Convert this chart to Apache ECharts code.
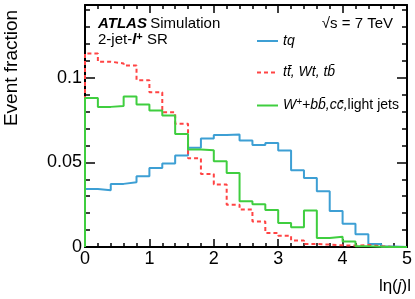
<!DOCTYPE html>
<html>
<head>
<meta charset="utf-8">
<script src="https://cdn.jsdelivr.net/npm/echarts@6/dist/echarts.min.js"></script>
<style>html,body{margin:0;padding:0;background:#fff}#c{width:415px;height:299px}</style>
</head>
<body>
<div id="c"></div>
<script>
// bin low edges of |eta(j)| (bin width 0.2)
const binLow = [0,0.2,0.4,0.6,0.8,1.0,1.2,1.4,1.6,1.8,2.0,2.2,2.4,2.6,2.8,3.0,3.2,3.4,3.6,3.8,4.0,4.2,4.4,4.6,4.8];
const binHigh = 5;
const tq    = [0.0343,0.0335,0.0373,0.0382,0.0418,0.0467,0.0493,0.0540,0.0586,0.0641,0.0662,0.0665,0.0630,0.0602,0.0615,0.0570,0.0453,0.0408,0.0329,0.0213,0.0137,0.0076,0.0017,0.0003,0];
const ttbar = [0.1144,0.1095,0.1085,0.1073,0.0986,0.0915,0.0796,0.0728,0.0524,0.0432,0.0369,0.0250,0.0221,0.0151,0.0083,0.0067,0.0039,0.0018,0.0014,0.0010,0.0008,0.0012,0.0005,0,0];
const wjets = [0.0880,0.0828,0.0833,0.0890,0.0842,0.0807,0.0777,0.0668,0.0576,0.0572,0.0507,0.0438,0.0270,0.0252,0.0218,0.0142,0.0116,0.0215,0.0053,0.0061,0.0032,0.0004,0.0002,0,0];
const xTicks = [0,1,2,3,4,5];
const yTicks = [0,0.05,0.1];
const yTickLabels = ['0','0.05','0.1'];
const names = ['tq', 'tt\u0304, Wt, tb\u0304', 'W+bb\u0304,cc\u0304,light jets'];

function histData(vals){
  const d = [[binLow[0], 0]];
  vals.forEach((v,i)=>d.push([binLow[i], v]));
  d.push([binHigh, vals[vals.length-1]]);
  return d;
}

const FONT = '"Liberation Sans", Arial, Helvetica, sans-serif';
const chart = echarts.init(document.getElementById('c'), null, {renderer:'canvas'});
const axisLine = {show:true, onZero:false, lineStyle:{color:'#000', width:2}};

const xCommon = {
  type:'value', min:0, max:5, interval:1,
  axisLine: axisLine,
  splitLine:{show:false},
  axisTick:{show:true, inside:true, length:8, lineStyle:{color:'#000', width:1.5}},
  minorTick:{show:true, splitNumber:5, length:4, lineStyle:{color:'#000', width:1.5}}
};
const yMajor = {
  type:'value', min:0, max:0.143, interval:0.05,
  axisLine: axisLine, splitLine:{show:false},
  axisTick:{show:true, inside:true, length:10, lineStyle:{color:'#000', width:1.5}}
};
const yMinor = {
  type:'value', min:0, max:0.143, interval:0.01,
  axisLine:{show:false, onZero:false}, splitLine:{show:false}, axisLabel:{show:false},
  axisTick:{show:true, inside:true, length:5, lineStyle:{color:'#000', width:1.5}}
};

const legendRich = {
  it:{fontFamily:FONT, fontSize:14, fontStyle:'italic', color:'#000'},
  n:{fontFamily:FONT, fontSize:14, color:'#000'},
  sup:{fontFamily:FONT, fontSize:10, fontStyle:'italic', color:'#000', verticalAlign:'top', padding:[0,0,7,0]}
};
function legendFmt(name){
  if (name === names[0]) return '{it|tq}';
  if (name === names[1]) return '{it|tt\u0304, Wt, tb\u0304}';
  return '{it|W}{sup|+}{it|+bb\u0304,cc\u0304,}{n|light jets}';
}

chart.setOption({
  animation:false,
  backgroundColor:'#fff',
  grid:{left:85, right:5, top:5, bottom:52, containLabel:false},
  xAxis:[
    Object.assign({}, xCommon, {position:'bottom',
      axisLabel:{show:true, margin:3, fontSize:18, fontFamily:FONT, color:'#000',
        formatter:v=> xTicks.indexOf(v)>=0 ? String(v) : ''}}),
    Object.assign({}, xCommon, {position:'top', axisLabel:{show:false}})
  ],
  yAxis:[
    Object.assign({}, yMajor, {position:'left',
      axisLabel:{show:true, margin:3, fontSize:18, fontFamily:FONT, color:'#000',
        formatter:v=>{ for(let i=0;i<yTicks.length;i++){ if(Math.abs(v-yTicks[i])<1e-6) return yTickLabels[i]; } return ''; }}}),
    Object.assign({}, yMajor, {position:'right', axisLabel:{show:false}}),
    Object.assign({}, yMinor, {position:'left'}),
    Object.assign({}, yMinor, {position:'right'})
  ],
  legend:{
    show:true, orient:'vertical', left:256, top:34, padding:0,
    itemWidth:21, itemHeight:14, itemGap:17.5,
    itemStyle:{opacity:0},
    data:names,
    formatter:legendFmt,
    textStyle:{rich:legendRich},
    selectedMode:false
  },
  series:[
    {name:names[0], type:'line', step:'end', symbol:'none', data:histData(tq),
     lineStyle:{color:'#3d9fd4', width:2}, itemStyle:{color:'#3d9fd4'}, z:3},
    {name:names[1], type:'line', step:'end', symbol:'none', data:histData(ttbar),
     lineStyle:{color:'#ff4444', width:2, type:[4,3]}, itemStyle:{color:'#ff4444'}, z:4},
    {name:names[2], type:'line', step:'end', symbol:'none', data:histData(wjets),
     lineStyle:{color:'#3fce3f', width:2}, itemStyle:{color:'#3fce3f'}, z:5}
  ],
  graphic:[
    {type:'text', x:12, y:68, rotation:Math.PI/2,
     style:{text:'Event fraction', font:'19px '+FONT, fill:'#000', textAlign:'center', textVerticalAlign:'middle'}},
    {type:'text', x:98, y:24,
     style:{text:'{b|ATLAS} {n|Simulation}', textVerticalAlign:'middle',
       rich:{b:{fontFamily:FONT, fontSize:15, fontWeight:'bold', fontStyle:'italic', fill:'#000'},
             n:{fontFamily:FONT, fontSize:15, fill:'#000'}}}},
    {type:'text', x:98, y:40,
     style:{text:'{n|2-jet-}{b|l}{sup|+}{n| SR}', textVerticalAlign:'middle',
       rich:{b:{fontFamily:FONT, fontSize:15, fontWeight:'bold', fontStyle:'italic', fill:'#000'},
             n:{fontFamily:FONT, fontSize:15, fill:'#000'},
             sup:{fontFamily:FONT, fontSize:11, fontWeight:'bold', fill:'#000', verticalAlign:'top', padding:[0,0,7,0]}}}},
    {type:'text', x:393, y:24,
     style:{text:'\u221As = 7 TeV', font:'15px '+FONT, fill:'#000', textAlign:'right', textVerticalAlign:'middle'}},
    {type:'text', x:411, y:286,
     style:{text:'{n|l\u03B7(}{i|j}{n|)l}', textAlign:'right', textVerticalAlign:'middle',
       rich:{n:{fontFamily:FONT, fontSize:17, fill:'#000'}, i:{fontFamily:FONT, fontSize:17, fontStyle:'italic', fill:'#000'}}}}
  ]
});
</script>
</body>
</html>
